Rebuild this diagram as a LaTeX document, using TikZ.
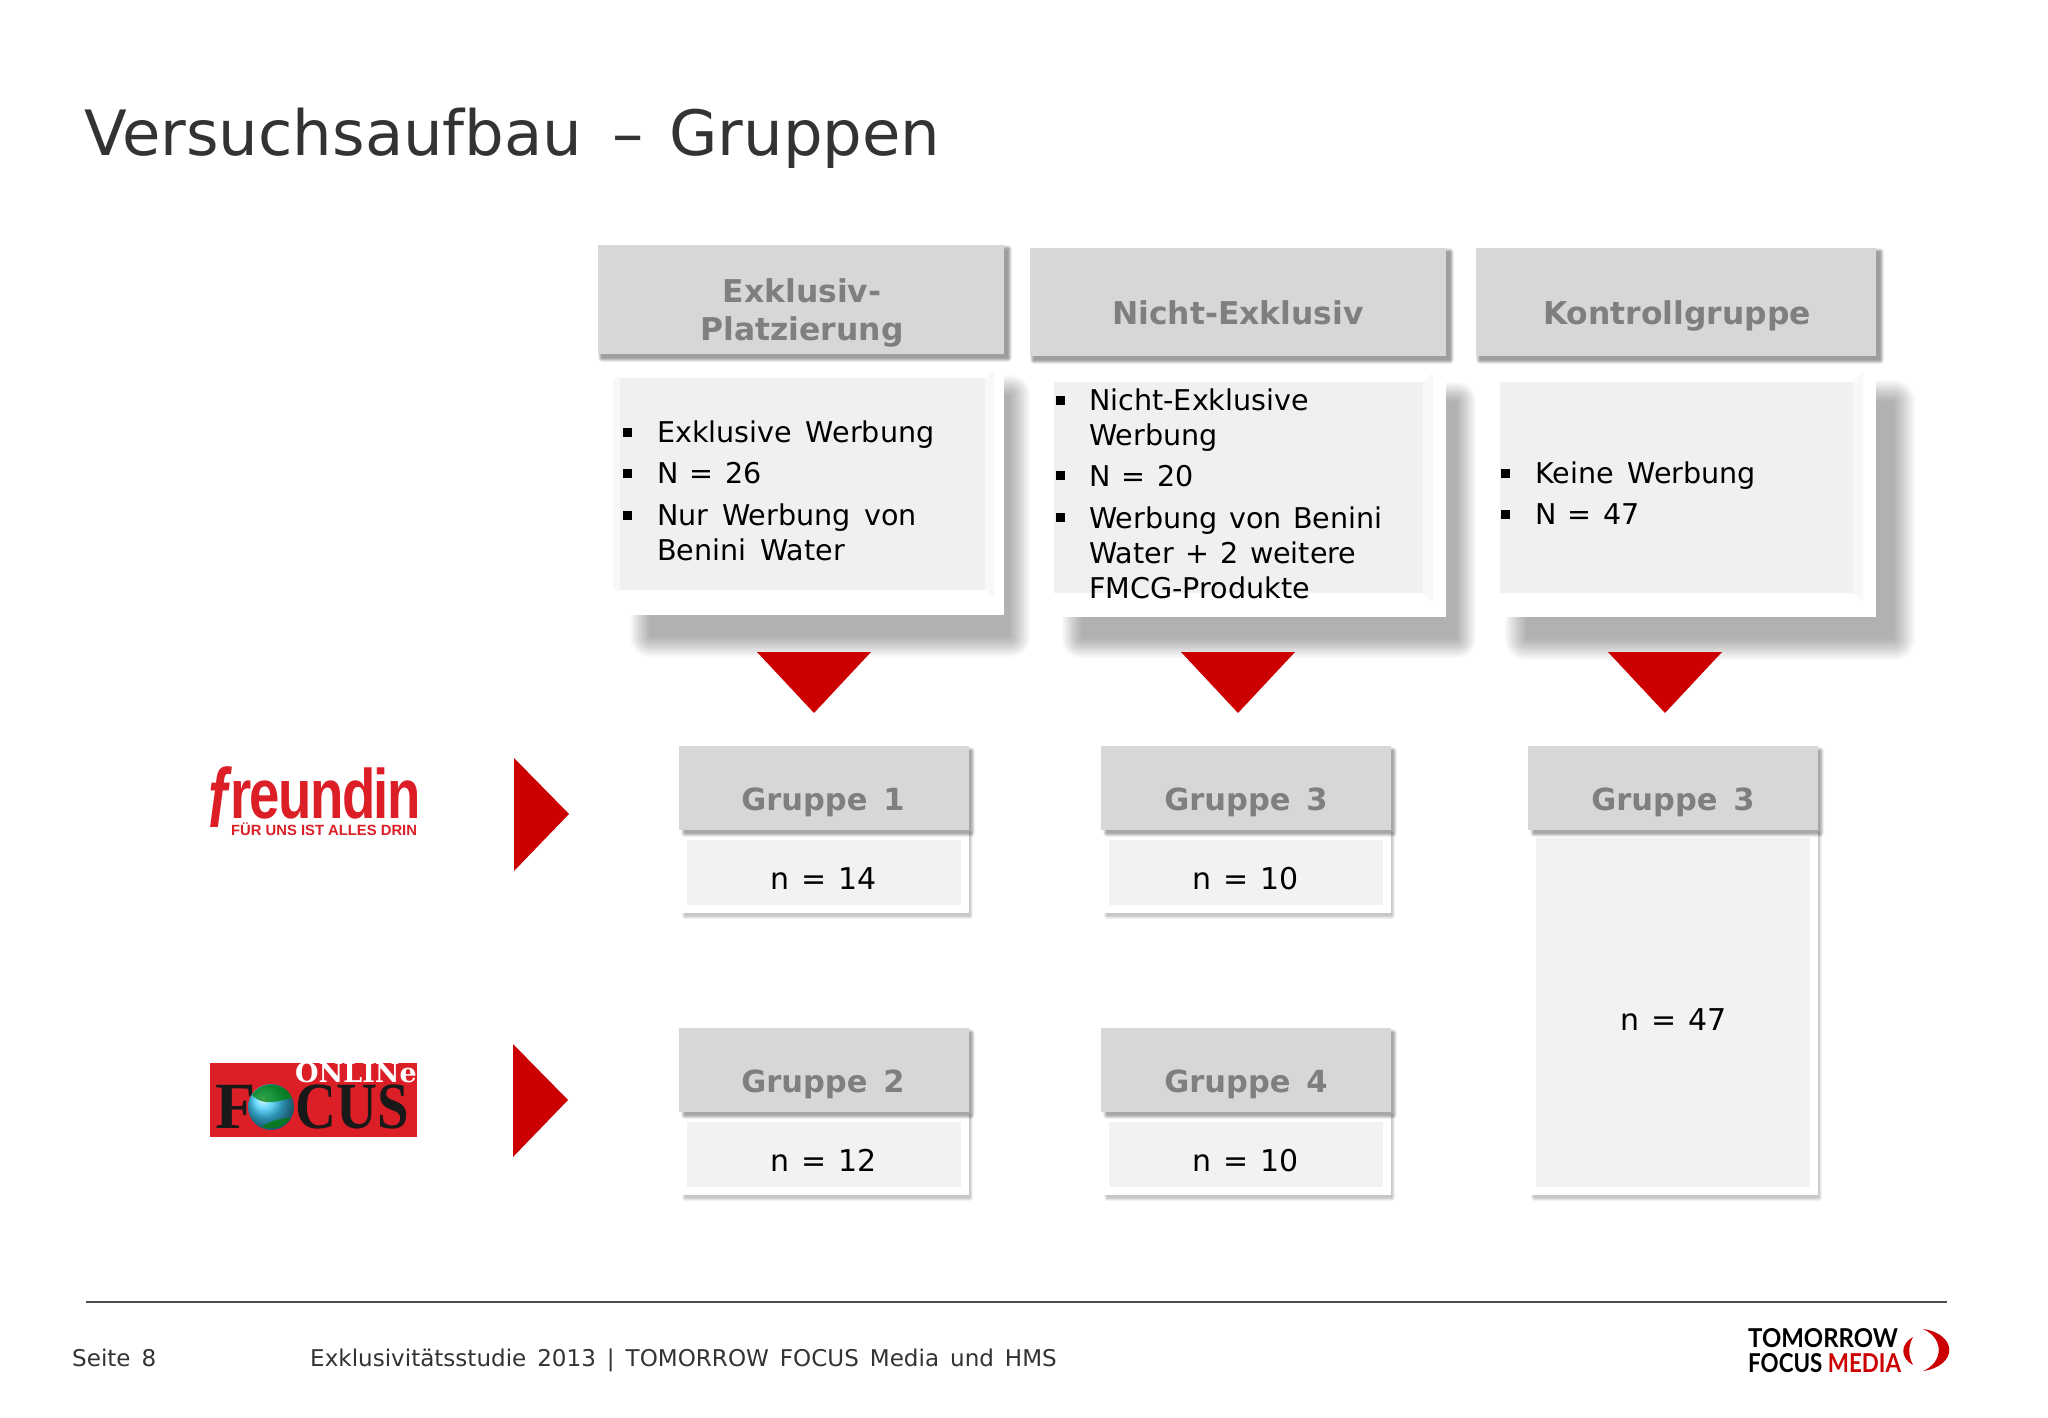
\documentclass[tikz,border=0pt]{standalone}
\usepackage{fontspec}
\usepackage{tikz}
\setmainfont[WordSpace=1.5]{DejaVu Sans}
\newfontfamily\numfont[WordSpace=1.25]{DejaVu Sans}
\newfontfamily\logofont{Liberation Sans}
\newfontfamily\tightfont[LetterSpace=-3]{Liberation Sans}
\newfontfamily\focusfont{Liberation Serif}
\newfontfamily\onlinefont{DejaVu Serif}
\newfontfamily\mediafont{Lato}
\usetikzlibrary{positioning}
\definecolor{mred}{HTML}{CC0000}
\definecolor{mhead}{HTML}{D7D7D8}
\definecolor{mpanel}{HTML}{F0F0F1}
\definecolor{mfill}{HTML}{F2F1F4}
\definecolor{mband}{HTML}{F8F8F9}
\definecolor{mlabel}{HTML}{7F7F7F}
\definecolor{mtext}{HTML}{333333}
\definecolor{mlogo}{HTML}{DC1F26}
\tikzset{headbox/.style = {rectangle, fill=mhead, anchor=north west, inner sep=0pt}}
\tikzset{whitebox/.style = {rectangle, fill=white, anchor=north west, inner sep=0pt}}
\tikzset{panelbox/.style = {rectangle, fill=mpanel, anchor=north west, inner sep=0pt}}
\tikzset{fillbox/.style = {panelbox, fill=mfill}}
\tikzset{headtext/.style = {anchor=base, align=center, text=mlabel, inner sep=0pt,
                            font=\fontsize{31.4}{36}\selectfont\bfseries}}
\tikzset{nametext/.style = {headtext, font=\fontsize{30.5}{36}\selectfont\bfseries}}
\tikzset{itemtext/.style = {anchor=base west, inner sep=0pt, text=black,
                            font=\fontsize{28.6}{35}\selectfont}}
\tikzset{numtext/.style = {itemtext, font=\fontsize{28.6}{35}\numfont}}
\tikzset{counttext/.style = {anchor=base, inner sep=0pt, text=black,
                             font=\fontsize{30}{35}\numfont}}
\tikzset{foottext/.style = {anchor=base west, inner sep=0pt, text=mtext,
                            font=\fontsize{23.05}{30}\selectfont}}
% blurred shadow: x1, y1, x2, y2, spread, opacity of one layer
\newcommand{\softshadow}[6]{
  \foreach \s in {0,...,13}
    \fill [black, opacity=#6, rounded corners=#5*(1-\s/13)*1pt]
      ({#1-#5*(1-\s/13)}, {#2-#5*(1-\s/13)}) rectangle ({#3+#5*(1-\s/13)}, {#4+#5*(1-\s/13)});
}
\newcommand{\itemmark}[2]{\fill [black] (#1, #2-4.5) rectangle (#1+9, #2+4.5);}

\begin{document}
\begin{tikzpicture}[x=1pt, y=-1pt]
    \useasboundingbox (0, 0) rectangle (2048, 1418);
    \fill [white] (0, 0) rectangle (2048, 1418);

    \node (title) [anchor=base west, inner sep=0pt, text=mtext, font=\fontsize{62.5}{70}\selectfont]
      at (84, 156) {Versuchsaufbau -- \hspace{-4pt}Gruppen};

    % upper columns
    \softshadow{650}{395}{1010}{637}{20}{0.025}
    \softshadow{1081}{401}{1457}{639}{19}{0.025}
    \softshadow{1526}{401}{1894}{639}{21}{0.025}
    \softshadow{602}{249}{1008}{358}{4}{0.03}
    \softshadow{1034}{252}{1450}{360}{4}{0.03}
    \softshadow{1480}{252}{1880}{360}{4}{0.03}

    \node (headA) [headbox, minimum width=406pt, minimum height=109pt] at (598, 245) {};
    \node (headB) [headbox, minimum width=416pt, minimum height=108pt] at (1030, 248) {};
    \node (headC) [headbox, minimum width=400pt, minimum height=108pt] at (1476, 248) {};
    \node (bodyA) [whitebox, minimum width=391pt, minimum height=248pt] at (613, 367) {};
    \node (bodyB) [whitebox, minimum width=416pt, minimum height=250pt] at (1030, 367) {};
    \node (bodyC) [whitebox, minimum width=400pt, minimum height=250pt] at (1476, 367) {};
    \fill [mband] (613, 378) rectangle (620, 590);
    \fill [mband] (985, 378) -- (994, 371) -- (994, 597) -- (985, 590) -- cycle;
    \fill [mband] (1423, 382) -- (1433, 372) -- (1433, 603) -- (1423, 593) -- cycle;
    \fill [mband] (1853, 382) -- (1863, 372) -- (1863, 603) -- (1853, 593) -- cycle;
    \node (panelA) [panelbox, minimum width=365pt, minimum height=212pt] at (620, 378) {};
    \node (panelB) [panelbox, minimum width=369pt, minimum height=211pt] at (1054, 382) {};
    \node (panelC) [panelbox, minimum width=353pt, minimum height=211pt] at (1500, 382) {};

    \node (labelA) [headtext] at (802, 302) {Exklusiv-};
    \node (labelAb) [headtext] at (802, 340) {Platzierung};
    \node (labelB) [headtext] at (1238, 324) {Nicht-Exklusiv};
    \node (labelC) [headtext] at (1677, 324) {Kontrollgruppe};

    \itemmark{623}{432} \itemmark{623}{473} \itemmark{623}{515}
    \node (itemAa) [itemtext] at (657, 442) {Exklusive Werbung};
    \node (itemAb) [numtext] at (657, 483) {N = 26};
    \node (itemAc) [itemtext] at (657, 525) {Nur Werbung von};
    \node (itemAd) [itemtext] at (657, 560) {Benini Water};

    \itemmark{1056}{400} \itemmark{1056}{475} \itemmark{1056}{517}
    \node (itemBa) [itemtext] at (1089, 410) {Nicht-Exklusive};
    \node (itemBb) [itemtext] at (1089, 445) {Werbung};
    \node (itemBc) [numtext] at (1089, 486) {N = 20};
    \node (itemBd) [numtext] at (1089, 528) {Werbung von Benini};
    \node (itemBe) [numtext] at (1089, 563) {Water + 2 weitere};
    \node (itemBf) [itemtext] at (1089, 598) {FMCG-Produkte};

    \itemmark{1501}{473} \itemmark{1501}{514}
    \node (itemCa) [itemtext] at (1535, 483) {Keine Werbung};
    \node (itemCb) [numtext] at (1535, 524) {N = 47};

    % triangles
    \foreach \x in {814, 1238, 1665}
      \fill [mred] (\x-57, 652) -- (\x+57, 652) -- (\x, 713) -- cycle;
    \fill [mred] (514, 758) -- (569, 814) -- (514, 871) -- cycle;
    \fill [mred] (513, 1044) -- (568, 1100) -- (513, 1157) -- cycle;

    % groups
    \foreach \col/\x in {A/679, B/1101} {
      \softshadow{\x+6}{834}{\x+291}{916}{3}{0.016}
      \softshadow{\x+6}{1116}{\x+291}{1198}{3}{0.016}
      \node (box\col a) [whitebox, minimum width=290pt, minimum height=83pt] at (\x, 830) {};
      \node (box\col b) [whitebox, minimum width=290pt, minimum height=83pt] at (\x, 1112) {};
      \node (fill\col a) [fillbox, minimum width=274pt, minimum height=65pt] at (\x+8, 840) {};
      \node (fill\col b) [fillbox, minimum width=274pt, minimum height=65pt] at (\x+8, 1122) {};
      \softshadow{\x+6}{751}{\x+292}{833}{4}{0.028}
      \softshadow{\x+6}{1033}{\x+292}{1115}{4}{0.028}
      \node (group\col a) [headbox, minimum width=290pt, minimum height=84pt] at (\x, 746) {};
      \node (group\col b) [headbox, minimum width=290pt, minimum height=84pt] at (\x, 1028) {};
    }
    \softshadow{1534}{834}{1819}{1198}{3}{0.016}
    \node (boxC) [whitebox, minimum width=290pt, minimum height=365pt] at (1528, 830) {};
    \node (fillC) [fillbox, minimum width=274pt, minimum height=349pt] at (1536, 838) {};
    \softshadow{1534}{751}{1820}{833}{4}{0.028}
    \node (groupC) [headbox, minimum width=290pt, minimum height=84pt] at (1528, 746) {};

    \node (nameAa) [nametext] at (823, 810) {Gruppe 1};
    \node (nameAb) [nametext] at (823, 1092) {Gruppe 2};
    \node (nameBa) [nametext] at (1246, 810) {Gruppe 3};
    \node (nameBb) [nametext] at (1246, 1092) {Gruppe 4};
    \node (nameC) [nametext] at (1673, 810) {Gruppe 3};

    \node (countAa) [counttext] at (824, 889) {n = 14};
    \node (countAb) [counttext] at (824, 1171) {n = 12};
    \node (countBa) [counttext] at (1246, 889) {n = 10};
    \node (countBb) [counttext] at (1246, 1171) {n = 10};
    \node (countC) [counttext] at (1674, 1030) {n = 47};

    % magazine logos
    \node (freundin) [anchor=base west, inner sep=0pt, text=mlogo, font=\fontsize{70}{80}\tightfont\bfseries]
      at (208, 818) {\scalebox{0.78}[1]{\raisebox{-9pt}[\height][0pt]{\scalebox{1.05}[1.2]{\textit{f}}}reundin}};
    \node (freundinsub) [anchor=base west, inner sep=0pt, text=mlogo, font=\fontsize{14.8}{18}\logofont\bfseries]
      at (231, 835) {FÜR UNS IST ALLES DRIN};

    \fill [mlogo] (210, 1063) rectangle (417, 1137);
    \node (online) [anchor=base east, inner sep=0pt, text=white, font=\fontsize{27}{30}\onlinefont\bfseries]
      at (417, 1082) {ONLINe};
    \node (focusF) [anchor=base west, inner sep=0pt, text=black!90, font=\fontsize{66}{70}\focusfont\bfseries]
      at (215, 1128) {F};
    \node (focusCUS) [anchor=base west, inner sep=0pt, text=black!90, font=\fontsize{66}{70}\focusfont\bfseries]
      at (295, 1128) {\scalebox{0.86}[1]{CUS}};
    \shade [ball color=cyan!75!blue!75!white] (271, 1107) circle (23);
    \fill [green!50!black, opacity=0.75] (252, 1095) .. controls (262, 1080) and (285, 1082) .. (292, 1098)
      .. controls (280, 1100) and (265, 1108) .. (252, 1095);
    \fill [green!50!black, opacity=0.7] (262, 1127) .. controls (270, 1120) and (283, 1118) .. (290, 1118)
      .. controls (287, 1125) and (275, 1131) .. (262, 1127);

    % footer
    \draw [black!70, line width=1.3pt] (86, 1302) -- (1947, 1302);
    \node (page) [foottext] at (72, 1366) {Seite 8};
    \node (study) [foottext] at (310, 1366) {Exklusivitätsstudie 2013 | TOMORROW FOCUS Media und HMS};

    \node (tomorrow) [anchor=base west, inner sep=0pt, font=\fontsize{26}{30}\mediafont\bfseries]
      at (1748, 1347) {\scalebox{0.92}[1]{TOMORROW}};
    \node (focus) [anchor=base west, inner sep=0pt, font=\fontsize{26}{30}\mediafont\bfseries]
      at (1748, 1372) {\scalebox{0.86}[1]{FOCUS \textcolor{mred}{MEDIA}}};
    \fill [mred] (1923, 1329) .. controls (1958, 1334) and (1958, 1366) .. (1923, 1371)
      .. controls (1944, 1362) and (1944, 1338) .. (1923, 1329);
    \fill [mred] (1913, 1337) .. controls (1900, 1344) and (1900, 1358) .. (1913, 1365)
      .. controls (1908, 1356) and (1908, 1346) .. (1913, 1337);
  \end{tikzpicture}
\end{document}
